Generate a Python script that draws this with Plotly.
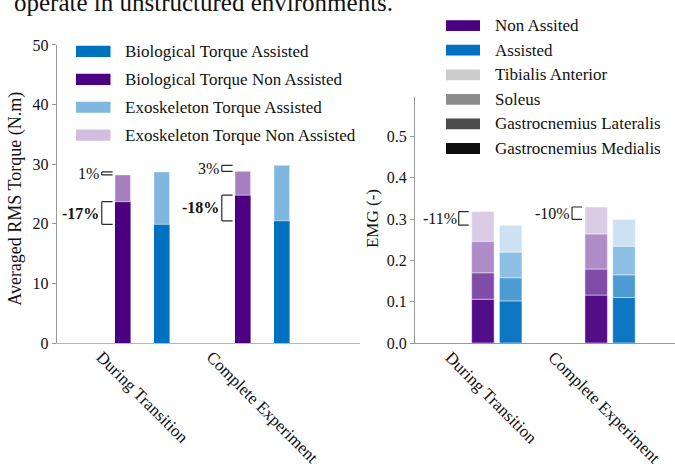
import plotly.graph_objects as go

W, H = 675, 466
FONT = "Liberation Serif, Times New Roman, serif"

# ---------------- data ----------------
categories = ["During Transition", "Complete Experiment"]

# Left panel: averaged RMS torque (N.m)
bio_assisted = [19.9, 20.5]
bio_non_assisted = [23.7, 24.8]
exo_assisted = [8.8, 9.3]
exo_non_assisted = [4.5, 4.0]
bio_diff_labels = ["-17%", "-18%"]
total_diff_labels = ["1%", "3%"]

# Right panel: EMG (-), segments bottom -> top
muscles = ["Gastrocnemius Medialis", "Gastrocnemius Lateralis", "Soleus", "Tibialis Anterior"]
emg_non_assisted_gm = [0.106, 0.116]
emg_non_assisted_gl = [0.064, 0.063]
emg_non_assisted_sol = [0.076, 0.085]
emg_non_assisted_ta = [0.072, 0.065]
emg_assisted_gm = [0.102, 0.110]
emg_assisted_gl = [0.056, 0.055]
emg_assisted_sol = [0.062, 0.069]
emg_assisted_ta = [0.065, 0.065]
emg_diff_labels = ["-11%", "-10%"]

left_yticks = [0, 10, 20, 30, 40, 50]
right_yticks = [0.0, 0.1, 0.2, 0.3, 0.4, 0.5]

left_legend = ["Biological Torque Assisted", "Biological Torque Non Assisted",
               "Exoskeleton Torque Assisted", "Exoskeleton Torque Non Assisted"]
right_legend = ["Non Assited", "Assisted", "Tibialis Anterior", "Soleus",
                "Gastrocnemius Lateralis", "Gastrocnemius Medialis"]

# ---------------- styles ----------------
BLUE = (0, 112, 192)
INDIGO = (75, 0, 130)
BLACK = (0, 0, 0)


def rgba(c, a):
    return f"rgba({c[0]},{c[1]},{c[2]},{a})"


seg_alpha = [0.95, 0.7, 0.45, 0.2]


def px(x):
    return x / W


def py(y):
    return 1 - y / H


fig = go.Figure()

# Left panel bars
NA_OFF_L, A_OFF_L, BW_L = -0.2275, 0.0975, 0.13
fig.add_trace(go.Bar(x=categories, y=bio_non_assisted, offset=NA_OFF_L, width=BW_L,
                     marker=dict(color=rgba(INDIGO, 1), line=dict(width=0)),
                     showlegend=False, xaxis="x", yaxis="y"))
fig.add_trace(go.Bar(x=categories, y=exo_non_assisted, base=bio_non_assisted,
                     offset=NA_OFF_L, width=BW_L,
                     marker=dict(color=rgba(INDIGO, 0.5), line=dict(width=0.8, color="rgba(255,255,255,0.6)")),
                     showlegend=False, xaxis="x", yaxis="y"))
fig.add_trace(go.Bar(x=categories, y=bio_assisted, offset=A_OFF_L, width=BW_L,
                     marker=dict(color=rgba(BLUE, 1), line=dict(width=0)),
                     showlegend=False, xaxis="x", yaxis="y"))
fig.add_trace(go.Bar(x=categories, y=exo_assisted, base=bio_assisted,
                     offset=A_OFF_L, width=BW_L,
                     marker=dict(color=rgba(BLUE, 0.5), line=dict(width=0.8, color="rgba(255,255,255,0.6)")),
                     showlegend=False, xaxis="x", yaxis="y"))

# Right panel stacked bars
NA_OFF_R, A_OFF_R, BW_R = -0.221, 0.0243, 0.1986
na_segments = [emg_non_assisted_gm, emg_non_assisted_gl, emg_non_assisted_sol, emg_non_assisted_ta]
a_segments = [emg_assisted_gm, emg_assisted_gl, emg_assisted_sol, emg_assisted_ta]


def stack(segments, off, color):
    base = [0.0] * len(categories)
    for seg, alpha, name in zip(segments, seg_alpha, muscles):
        fig.add_trace(go.Bar(x=categories, y=seg, base=list(base), offset=off, width=BW_R,
                             name=name,
                             marker=dict(color=rgba(color, alpha),
                                         line=dict(width=0.8, color="rgba(255,255,255,0.6)")),
                             showlegend=False, xaxis="x2", yaxis="y2"))
        base = [b + s for b, s in zip(base, seg)]
    return base


na_tot = stack(na_segments, NA_OFF_R, INDIGO)
a_tot = stack(a_segments, A_OFF_R, BLUE)

shapes = []
annotations = []
BR_COLOR = "#2a2a2a"


def bracket(xref, yref, xl, xr, y0, y1):
    for (a, b, c, d) in [(xl, y0, xl, y1), (xl, y0, xr, y0), (xl, y1, xr, y1)]:
        shapes.append(dict(type="line", xref=xref, yref=yref, x0=a, y0=b, x1=c, y1=d,
                           line=dict(color=BR_COLOR, width=1.2)))


# Left brackets
for i in range(len(categories)):
    xr = i + NA_OFF_L - 0.02
    xl = xr - 0.09
    bracket("x", "y", xl, xr, bio_assisted[i], bio_non_assisted[i])
    annotations.append(dict(x=xl, y=(bio_assisted[i] + bio_non_assisted[i]) / 2, xref="x", yref="y",
                            text=f"<b>{bio_diff_labels[i]}</b>", showarrow=False,
                            xanchor="right", yanchor="middle", xshift=-1,
                            font=dict(family=FONT, size=16, color="#111")))
    t_na = bio_non_assisted[i] + exo_non_assisted[i]
    t_a = bio_assisted[i] + exo_assisted[i]
    bracket("x", "y", xl, xr, t_na, t_a)
    annotations.append(dict(x=xl, y=(t_na + t_a) / 2, xref="x", yref="y",
                            text=total_diff_labels[i], showarrow=False,
                            xanchor="right", yanchor="middle", xshift=-1,
                            font=dict(family=FONT, size=16, color="#111")))

# Right brackets
for i in range(len(categories)):
    xr = i + NA_OFF_R - 0.026
    xl = xr - 0.088
    bracket("x2", "y2", xl, xr, a_tot[i], na_tot[i])
    annotations.append(dict(x=xl, y=(a_tot[i] + na_tot[i]) / 2, xref="x2", yref="y2",
                            text=emg_diff_labels[i], showarrow=False,
                            xanchor="right", yanchor="middle", xshift=0,
                            font=dict(family=FONT, size=16, color="#111")))

# Category labels (rotated, centred under each group)
for xr_, shift in [("x", 0), ("x2", -6)]:
    for c in categories:
        annotations.append(dict(x=c, y=py(350), xref=xr_, yref="paper", text=c, showarrow=False,
                                textangle=45, xanchor="center", yanchor="top", xshift=shift,
                                font=dict(family=FONT, size=17, color="#111")))

# Axis titles
annotations.append(dict(x=px(16), y=py(198), xref="paper", yref="paper",
                        text="Averaged RMS Torque (N.m)", showarrow=False, textangle=-90,
                        xanchor="center", yanchor="middle",
                        font=dict(family=FONT, size=18, color="#111")))
annotations.append(dict(x=px(372.5), y=py(218.5), xref="paper", yref="paper",
                        text="EMG (-)", showarrow=False, textangle=-90,
                        xanchor="center", yanchor="middle",
                        font=dict(family=FONT, size=17, color="#111")))

# Clipped text at top of page
annotations.append(dict(x=px(12), y=py(10), xref="paper", yref="paper",
                        text="operate in unstructured environments.", showarrow=False,
                        xanchor="left", yanchor="bottom",
                        font=dict(family=FONT, size=25, color="#111")))

# Manual legends (wide swatches)
left_leg_colors = [rgba(BLUE, 1), rgba(INDIGO, 1), rgba(BLUE, 0.5), rgba(INDIGO, 0.25)]
for k, (name, col) in enumerate(zip(left_legend, left_leg_colors)):
    yc = 45 + k * 29
    shapes.append(dict(type="rect", xref="paper", yref="paper", x0=px(76), x1=px(110.5),
                       y0=py(yc - 5.8), y1=py(yc + 5.8), fillcolor=col, line=dict(width=0)))
    annotations.append(dict(x=px(123), y=py(yc), xref="paper", yref="paper", text=name,
                            showarrow=False, xanchor="left", yanchor="middle",
                            font=dict(family=FONT, size=17, color="#111")))

right_leg_colors = [rgba(INDIGO, 1), rgba(BLUE, 1), rgba(BLACK, 0.2), rgba(BLACK, 0.45),
                    rgba(BLACK, 0.7), rgba(BLACK, 0.95)]
for k, (name, col) in enumerate(zip(right_legend, right_leg_colors)):
    yc = 18.3 + k * 25.5
    shapes.append(dict(type="rect", xref="paper", yref="paper", x0=px(446), x1=px(480),
                       y0=py(yc - 5.6), y1=py(yc + 5.6), fillcolor=col, line=dict(width=0)))
    annotations.append(dict(x=px(493), y=py(yc), xref="paper", yref="paper", text=name,
                            showarrow=False, xanchor="left", yanchor="middle",
                            font=dict(family=FONT, size=17, color="#111")))

axis_common = dict(showgrid=False, zeroline=False, showline=True)
tickfont = dict(family=FONT, size=16, color="#111")

fig.update_layout(
    width=W, height=H,
    margin=dict(l=0, r=0, t=0, b=0),
    paper_bgcolor="white", plot_bgcolor="white",
    barmode="overlay",
    showlegend=False,
    xaxis=dict(domain=[px(56.7), px(360)], range=[-0.713, 1.814], type="category",
               showticklabels=False, ticks="", linecolor="#b8b8b8", linewidth=1.2,
               anchor="y", **axis_common),
    yaxis=dict(domain=[py(347.7), py(38.3)], range=[0, 50], tickvals=left_yticks,
               ticks="outside", ticklen=4, tickcolor="#999", linecolor="#999", linewidth=1.2,
               tickfont=tickfont, anchor="x", **axis_common),
    xaxis2=dict(domain=[px(415), 1.0], range=[-0.721, 1.574], type="category",
                showticklabels=False, ticks="", linecolor="#999", linewidth=1.2,
                anchor="y2", **axis_common),
    yaxis2=dict(domain=[py(347.7), py(92)], range=[0, 0.596], tickvals=right_yticks,
                tickformat=".1f", ticks="outside", ticklen=4, tickcolor="#999",
                linecolor="#999", linewidth=1.2, tickfont=tickfont, anchor="x2", **axis_common),
    shapes=shapes,
    annotations=annotations,
)

fig.write_html("out.html", config={"displayModeBar": False},
               post_script="document.body.style.margin='0px';document.body.style.overflow='hidden';")
